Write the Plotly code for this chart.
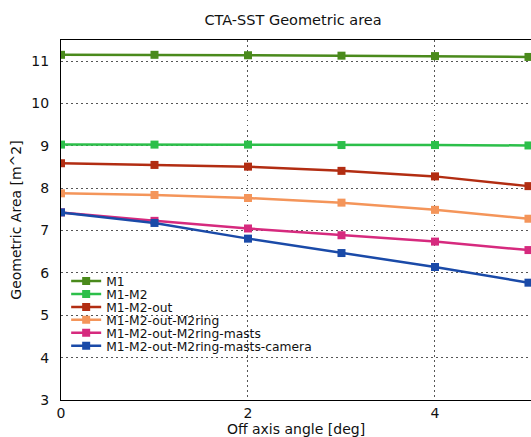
import plotly.graph_objects as go

angles = [0, 1, 2, 3, 4, 5]
series_names = ["M1", "M1-M2", "M1-M2-out", "M1-M2-out-M2ring",
                "M1-M2-out-M2ring-masts", "M1-M2-out-M2ring-masts-camera"]
m1 = [11.15, 11.15, 11.14, 11.13, 11.12, 11.10]
m1_m2 = [9.03, 9.03, 9.03, 9.02, 9.02, 9.01]
m1_m2_out = [8.59, 8.55, 8.51, 8.41, 8.28, 8.05]
m1_m2_out_ring = [7.88, 7.84, 7.77, 7.66, 7.49, 7.28]
m1_m2_out_ring_masts = [7.43, 7.23, 7.05, 6.89, 6.74, 6.54]
m1_m2_out_ring_masts_camera = [7.43, 7.18, 6.81, 6.47, 6.14, 5.77]
colors = ["#4a8a1c", "#2cbf4a", "#b22d12", "#f4955a", "#d62a7e", "#1a4aa8"]

all_series = [m1, m1_m2, m1_m2_out, m1_m2_out_ring, m1_m2_out_ring_masts,
              m1_m2_out_ring_masts_camera]

W, H = 531, 437
L, R, T, B = 61, 0, 40, 37
ph = H - T - B

fig = go.Figure()
legends = {}
for i, (name, vals, col) in enumerate(zip(series_names, all_series, colors)):
    key = "legend" if i == 0 else f"legend{i+1}"
    fig.add_trace(go.Scatter(
        x=angles, y=vals, name=name, mode="lines+markers",
        line=dict(color=col, width=2.5),
        marker=dict(symbol="square", size=8, color=col),
        legend=key,
    ))
    ycenter = 281 + 12.95 * i
    legends[key] = dict(
        x=0.011, y=(H - B - ycenter) / ph, xanchor="left", yanchor="middle",
        bgcolor="rgba(0,0,0,0)", font=dict(size=12.3), itemwidth=30,
    )

font = "DejaVu Sans, sans-serif"
fig.update_layout(
    width=W, height=H,
    margin=dict(l=L, r=R, t=T, b=B),
    paper_bgcolor="white", plot_bgcolor="white",
    font=dict(family=font, color="#111", size=13),
    title=dict(text="CTA-SST Geometric area", x=293/W, xanchor="center",
               y=1 - 20/H, yanchor="middle", font=dict(size=14.5)),
    showlegend=True,
    **legends,
)
grid = dict(showgrid=True, gridcolor="#555", griddash="1.5px,3.5px", gridwidth=1)
fig.update_xaxes(
    range=[0, 5.027], tickvals=[0, 2, 4], ticktext=["0", "2", "4"],
    showline=True, linecolor="black", linewidth=1, mirror=True,
    zeroline=False, tickfont=dict(size=14), automargin=False,
    ticks="", ticklabelstandoff=0,
    title=dict(text="Off axis angle [deg]", font=dict(size=14), standoff=0),
    **grid,
)
fig.update_yaxes(
    range=[3, 11.5], tickvals=[3, 4, 5, 6, 7, 8, 9, 10, 11],
    showline=True, linecolor="black", linewidth=1, mirror=True,
    zeroline=False, tickfont=dict(size=14), automargin=False,
    ticks="", ticklabelstandoff=8,
    title=dict(text="Geometric Area [m^2]", font=dict(size=14), standoff=6),
    **grid,
)
fig.write_html("out.html", config={"displayModeBar": False},
               post_script="document.body.style.margin='0';document.body.style.overflow='hidden';")
